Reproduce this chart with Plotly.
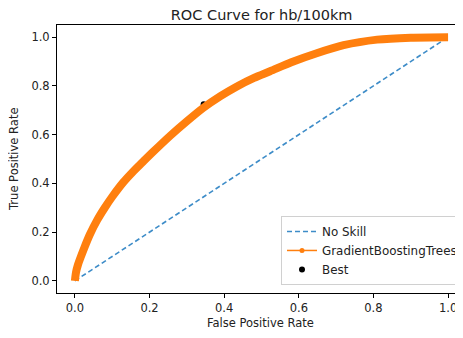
import plotly.graph_objects as go

# Data
skill_x = [0, 1]
skill_y = [0, 1]

fpr = [0, 0.003, 0.008, 0.015, 0.025, 0.04, 0.06, 0.08, 0.10, 0.13, 0.155, 0.18,
       0.21, 0.255, 0.3, 0.344, 0.39, 0.433, 0.48, 0.523, 0.58, 0.648, 0.72, 0.81, 0.9, 1.0]
tpr = [0, 0.035, 0.065, 0.095, 0.135, 0.19, 0.25, 0.30, 0.345, 0.405, 0.447, 0.485,
       0.53, 0.595, 0.655, 0.71, 0.758, 0.797, 0.833, 0.86, 0.897, 0.934, 0.967, 0.99, 0.998, 1.0]

best_x = [0.345]
best_y = [0.725]

font = "DejaVu Sans, Arial, sans-serif"
orange = "#ff7f0e"
blue = "#3d8cc8"
fs = 11.5

fig = go.Figure()
fig.add_trace(go.Scatter(x=skill_x, y=skill_y, mode="lines", name="No Skill", legendrank=1,
                         line=dict(color=blue, width=1.6, dash="5px,3px")))
# Best point sits beneath the curve (scatter drawn under lines in the original)
fig.add_trace(go.Scatter(x=best_x, y=best_y, mode="markers", name="Best", legendrank=3,
                         marker=dict(color="black", size=6)))
# thick curve (dense markers in original)
fig.add_trace(go.Scatter(x=fpr, y=tpr, mode="lines", showlegend=False,
                         line=dict(color=orange, width=8, shape="spline", smoothing=0.8),
                         hoverinfo="skip"))
# legend entry for the curve
fig.add_trace(go.Scatter(x=[None], y=[None], mode="lines+markers", legendrank=2,
                         name="GradientBoostingTrees",
                         line=dict(color=orange, width=1.5),
                         marker=dict(color=orange, size=5)))

axis_common = dict(showline=True, linecolor="black", linewidth=1,
                   ticks="outside", ticklen=4, tickwidth=1, tickcolor="black",
                   showgrid=False, zeroline=False, automargin=False,
                   tickfont=dict(family=font, size=fs, color="#222"),
                   tickformat=".1f", dtick=0.2)

fig.update_layout(
    width=455, height=330,
    margin=dict(l=49, r=0, t=17, b=45),
    paper_bgcolor="white", plot_bgcolor="white",
    font=dict(family=font, size=fs, color="#222"),
    title=dict(text="ROC Curve for hb/100km", x=0.504, xref="paper", xanchor="center",
               y=1 - 7 / 330, yref="container", yanchor="middle",
               font=dict(family=font, size=14.5, color="#222")),
    xaxis=dict(range=[-0.048, 1.04], mirror=True, tick0=0, **axis_common),
    yaxis=dict(range=[-0.05, 1.05], tick0=0, **axis_common),
    legend=dict(x=1.0, y=0.03, xanchor="right", yanchor="bottom",
                bgcolor="white", bordercolor="#d0d0d0", borderwidth=1,
                font=dict(family=font, size=11.9, color="#222"),
                itemwidth=30, tracegroupgap=0),
    showlegend=True,
    annotations=[
        dict(text="False Positive Rate", xref="paper", yref="paper", x=0.501, y=0,
             xanchor="center", yanchor="middle", yshift=-30, showarrow=False,
             font=dict(family=font, size=fs, color="#222")),
        dict(text="True Positive Rate", xref="paper", yref="paper", x=-0.106, y=0.5,
             xanchor="center", yanchor="middle", textangle=-90, showarrow=False,
             font=dict(family=font, size=fs, color="#222")),
    ],
)

fig.write_html("out.html")
